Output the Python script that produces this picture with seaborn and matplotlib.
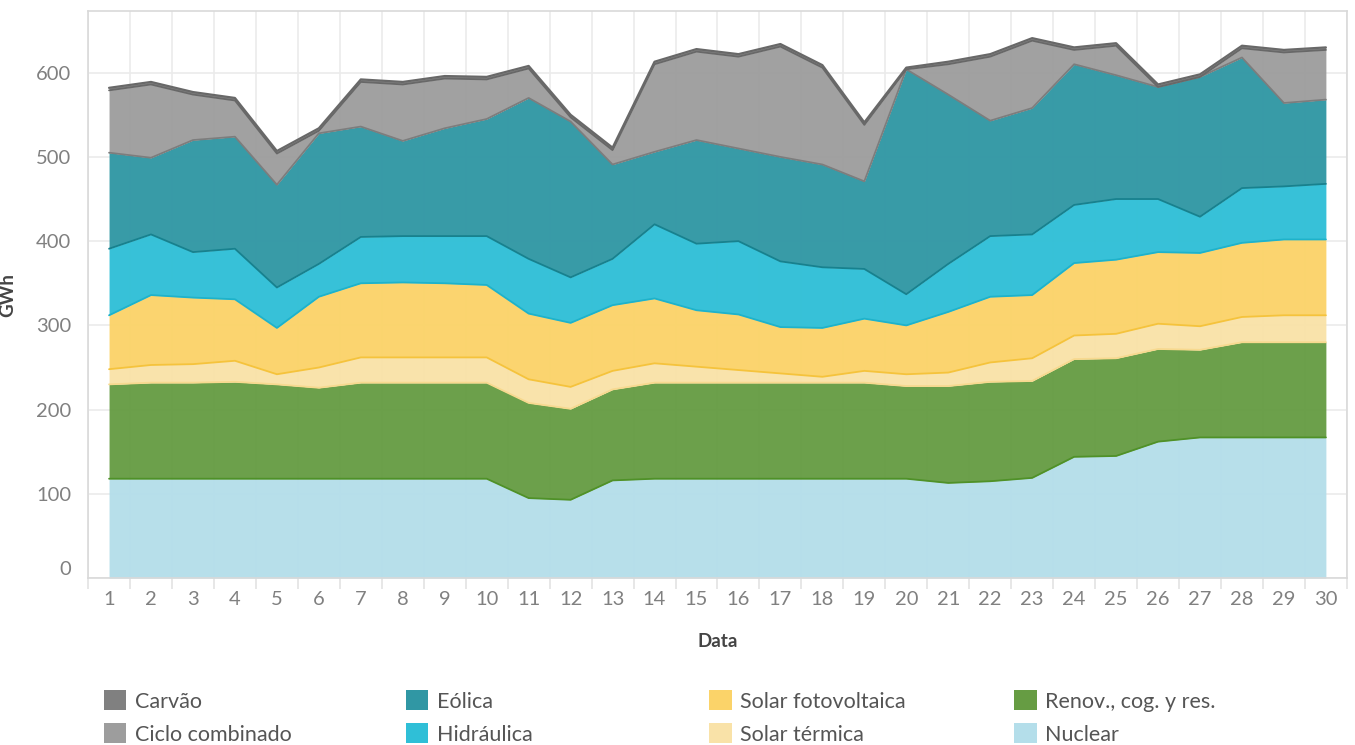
import numpy as np
import pandas as pd
import matplotlib
matplotlib.use("Agg")
import matplotlib.pyplot as plt
from matplotlib.patches import Patch
import seaborn as sns

# Daily generation (GWh)
dias = list(range(1, 31))
nuclear = [118, 118, 118, 118, 118, 118, 118, 118, 118, 118,
           95, 93, 116, 118, 118, 118, 118, 118, 118, 118,
           113, 115, 119, 144, 145, 162, 167, 167, 167, 167]
renovables = [112, 114, 114, 115, 112, 108, 114, 114, 114, 114,
              113, 108, 108, 114, 114, 114, 114, 114, 114, 110,
              115, 118, 115, 116, 116, 110, 104, 113, 113, 113]
solar_termica = [18, 21, 22, 25, 12, 24, 30, 30, 30, 30,
                 28, 26, 22, 23, 19, 15, 11, 7, 14, 14,
                 16, 23, 27, 28, 29, 30, 28, 30, 32, 32]
solar_fv = [64, 83, 79, 73, 55, 84, 88, 89, 88, 86,
            78, 76, 78, 77, 67, 66, 55, 58, 62, 58,
            72, 78, 75, 86, 88, 85, 87, 88, 90, 90]
hidraulica = [79, 72, 54, 60, 48, 39, 55, 55, 56, 58,
              65, 54, 55, 88, 79, 87, 78, 72, 59, 37,
              57, 72, 72, 69, 72, 63, 43, 65, 63, 66]
eolica = [114, 91, 133, 133, 122, 155, 131, 113, 128, 139,
          191, 185, 112, 86, 123, 110, 124, 122, 104, 267,
          201, 137, 150, 167, 147, 133, 166, 155, 99, 100]
ciclo_combinado = [74, 87, 54, 43, 37, 3, 53, 67, 59, 47,
                   35, 5, 17, 104, 105, 109, 131, 115, 67, 0,
                   36, 76, 80, 17, 35, 0, 0, 11, 60, 59]
carvao = [3, 3, 3, 3, 3, 3, 3, 3, 3, 3,
          3, 3, 3, 3, 3, 3, 3, 3, 3, 2,
          3, 3, 3, 3, 3, 3, 3, 3, 3, 3]

# stacking order, bottom to top
series = ["Nuclear", "Renov., cog. y res.", "Solar térmica", "Solar fotovoltaica",
          "Hidráulica", "Eólica", "Ciclo combinado", "Carvão"]
valores = [nuclear, renovables, solar_termica, solar_fv,
           hidraulica, eolica, ciclo_combinado, carvao]
colores = ["#b4deea", "#669c43", "#f9e2a8", "#fbd369",
           "#2fbfd7", "#3097a4", "#9d9d9d", "#808080"]
bordes = ["#9fd0de", "#4f9128", "#f7d98f", "#f5c33c",
          "#1eb2ca", "#17818e", "#7d7d7d", "#686868"]

df = pd.DataFrame(dict(zip(series, valores)), index=dias)
top = df.cumsum(axis=1)
bottom = top.shift(1, axis=1).fillna(0)

sns.set_theme(style="whitegrid")
plt.rcParams["font.family"] = ["Lato", "DejaVu Sans"]

fig = plt.figure(figsize=(13.55, 7.45), dpi=100)
ax = fig.add_axes([0.065, 0.224, 0.929, 0.761])

for i, name in enumerate(series):
    ax.fill_between(df.index, bottom[name], top[name], color=colores[i],
                    alpha=0.96, linewidth=0, zorder=2)

# boundary lines: each layer outlines its lower edge, carvão also its top
for i, name in enumerate(series):
    if i > 0:
        sns.lineplot(x=df.index, y=bottom[name].values, color=bordes[i],
                     linewidth=1.3, ax=ax, zorder=3)
sns.lineplot(x=df.index, y=top["Carvão"].values, color=bordes[-1],
             linewidth=1.6, ax=ax, zorder=4)

ax.set_xlim(0.5, 30.5)
ax.set_ylim(0, 673)
ax.set_xticks(dias)
ax.set_xticks(np.arange(0.5, 31, 1), minor=True)
ax.set_yticks(range(0, 601, 100))

ax.grid(False)
ax.grid(True, which="minor", axis="x", color="#ebebeb", linewidth=1.2, zorder=0)
ax.grid(True, which="major", axis="y", color="#ebebeb", linewidth=1.2, zorder=0)
ax.set_axisbelow(True)

for s in ax.spines.values():
    s.set_color("#d9d9d9")
    s.set_linewidth(1.2)

ax.tick_params(axis="x", which="major", length=0, pad=9, labelsize=14.5, labelcolor="#808080")
ax.tick_params(axis="x", which="minor", length=8, width=1.2, color="#e3e3e3", bottom=True)
ax.tick_params(axis="y", length=0, pad=12, labelsize=14.5, labelcolor="#808080")
ax.yaxis.get_major_ticks()[0].label1.set_verticalalignment("bottom")

ax.set_xlabel("Data", fontsize=13.5, fontweight="bold", color="#444444", labelpad=18)
ax.set_ylabel("GWh", fontsize=13.5, fontweight="bold", color="#444444", labelpad=14)

# legend: 4 columns of 2 entries, Tableau order
leg_order = list(range(len(series)))[::-1]
handles = [Patch(facecolor=colores[i], edgecolor="none", label=series[i]) for i in leg_order]
col_x = [0.0685, 0.2915, 0.5155, 0.7405]
for c in range(4):
    fig.legend(handles=handles[2 * c:2 * c + 2], loc="upper left",
               bbox_to_anchor=(col_x[c], 0.088), frameon=False,
               fontsize=15.5, handlelength=1.05, handleheight=1.05,
               handletextpad=0.4, labelspacing=0.55, borderpad=0,
               labelcolor="#555555")

fig.savefig("out.png", dpi=100, facecolor="white")
